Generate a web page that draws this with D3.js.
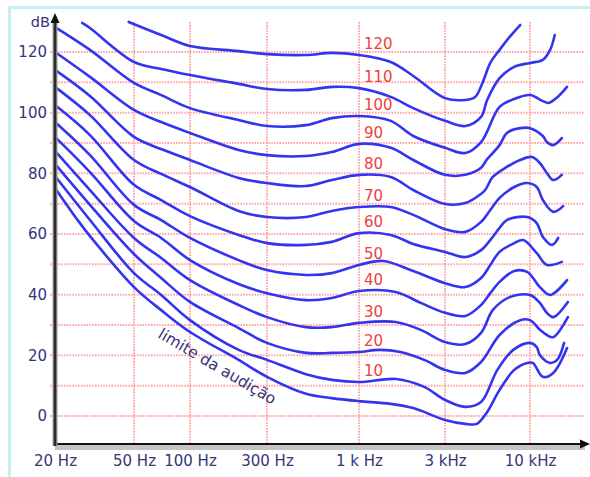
<!DOCTYPE html>
<html>
<head>
<meta charset="utf-8">
<script src="https://cdn.jsdelivr.net/npm/d3@7"></script>
<style>
  body { margin: 0; background: #fff; }
  svg { display: block; }
</style>
</head>
<body>
<div id="plot"></div>
<script>
// axis ticks and labels
const freqTicks  = [20, 50, 100, 300, 1000, 3000, 10000];
const freqLabels = ["20 Hz", "50 Hz", "100 Hz", "300 Hz", "1 k Hz", "3 kHz", "10 kHz"];
const gridFreqs  = [50, 100, 300, 1000, 3000, 10000];
const dbTicks    = [0, 20, 40, 60, 80, 100, 120];
const dbGrid     = [0, 10, 20, 30, 40, 50, 60, 70, 80, 90, 100, 110, 120];

// equal loudness curves (phon), frequency in Hz / level in dB
const f120 = [47, 70, 100, 200, 300, 500, 700, 1000, 1500, 2000, 3000, 4000, 4600, 5100, 5700, 6500, 7500, 8700];
const db120 = [129.9, 125.6, 122.0, 120.3, 119.3, 119.0, 119.7, 119.0, 116.7, 112.1, 104.8, 104.2, 105.2, 109.8, 116.4, 120.7, 125.0, 128.9];

const f110 = [27.4, 30, 50, 70, 100, 200, 300, 500, 700, 1000, 1500, 2000, 3000, 4000, 5000, 5450, 6500, 8000, 10000, 12000, 13300, 14200];
const db110 = [129.6, 127.9, 116.7, 114.4, 112.4, 109.5, 107.8, 107.5, 108.5, 108.1, 105.2, 101.5, 97.3, 95.6, 98.6, 104.2, 111.4, 115.1, 116.4, 117.4, 120.7, 125.6];

const f100 = [20, 30, 50, 70, 100, 200, 300, 500, 700, 1000, 1500, 2000, 3000, 4000, 5000, 6500, 8000, 10000, 12000, 13000, 14800, 16900];
const db100 = [128.2, 120.7, 109.8, 105.8, 101.5, 97.6, 95.6, 95.9, 98.2, 98.9, 97.3, 92.3, 88.4, 86.7, 90.3, 101.9, 104.5, 105.8, 103.8, 103.2, 105.2, 108.5];

const f90 = [20, 30, 50, 70, 100, 200, 300, 500, 700, 1000, 1500, 2000, 3000, 4000, 5000, 5400, 6500, 7200, 8700, 10000, 12000, 12700, 13900, 15700];
const db90 = [120.0, 111.8, 100.9, 96.9, 93.3, 87.7, 86.0, 85.7, 87.0, 89.7, 88.4, 84.4, 79.5, 79.5, 81.8, 84.4, 89.3, 93.3, 94.9, 94.9, 92.3, 90.3, 89.3, 91.6];

const f80 = [20, 30, 50, 70, 100, 200, 300, 500, 700, 1000, 1500, 2000, 3000, 4000, 4700, 5300, 5900, 7200, 8700, 10300, 11500, 12700, 13900, 15700];
const db80 = [114.1, 105.5, 92.0, 88.0, 84.4, 78.5, 76.8, 75.8, 77.8, 79.5, 78.8, 74.5, 69.9, 70.2, 72.2, 74.5, 78.8, 82.1, 84.4, 85.4, 83.4, 80.1, 77.8, 79.5];

const f70 = [20, 30, 50, 70, 100, 200, 300, 500, 700, 1000, 1500, 2000, 3000, 4000, 5000, 5700, 6500, 8000, 9600, 11000, 12000, 13900, 16000];
const db70 = [108.5, 99.2, 84.4, 79.8, 75.5, 67.6, 65.6, 65.6, 67.6, 68.9, 68.9, 66.3, 61.6, 60.7, 64.0, 67.9, 71.9, 75.5, 76.8, 75.5, 71.2, 67.3, 69.2];

const f60 = [20, 30, 50, 70, 100, 200, 300, 500, 700, 1000, 1500, 2000, 3000, 4000, 5000, 5700, 6500, 7200, 9600, 11000, 12000, 13700, 14900];
const db60 = [102.5, 92.6, 76.2, 71.2, 65.9, 59.7, 57.0, 56.4, 57.4, 60.3, 59.7, 56.7, 54.1, 52.4, 54.7, 58.0, 62.0, 64.6, 65.6, 63.6, 59.0, 56.4, 58.7];

const f50 = [20, 30, 50, 70, 100, 200, 300, 500, 700, 1000, 1360, 2000, 3000, 4000, 5000, 5700, 6500, 8000, 9100, 11000, 12700, 15700];
const db50 = [96.9, 86.0, 69.6, 64.6, 58.7, 51.4, 48.1, 46.5, 47.1, 49.8, 51.1, 47.8, 43.8, 42.5, 45.5, 49.8, 54.1, 57.0, 58.0, 53.7, 49.8, 50.8];

const f40 = [20, 30, 50, 70, 100, 200, 300, 500, 700, 1000, 1600, 2200, 3000, 4000, 5000, 5700, 6500, 8000, 9600, 11500, 13300, 16900];
const db40 = [92.0, 80.4, 64.3, 58.7, 51.4, 43.5, 40.5, 38.2, 38.9, 41.2, 40.9, 37.3, 34.0, 33.0, 36.6, 40.5, 44.2, 47.8, 47.5, 42.5, 39.9, 44.8];

const f30 = [20, 30, 50, 70, 100, 200, 300, 500, 700, 1000, 1600, 2200, 3000, 4000, 5000, 5900, 7500, 10000, 11500, 12700, 13900, 17100];
const db30 = [87.4, 74.5, 58.7, 52.1, 44.8, 36.6, 32.6, 29.3, 29.3, 30.7, 31.0, 28.4, 24.4, 23.7, 27.4, 34.9, 39.2, 39.9, 37.3, 34.0, 32.6, 37.6];

const f20 = [20, 30, 50, 70, 100, 200, 300, 500, 700, 1000, 1300, 1700, 2300, 3000, 4000, 5000, 6500, 8700, 10000, 11500, 12700, 13900, 17100];
const db20 = [83.1, 69.6, 53.4, 45.5, 37.6, 29.0, 24.1, 20.8, 20.8, 21.1, 21.8, 21.1, 18.5, 15.2, 14.2, 17.8, 26.7, 31.6, 31.6, 28.4, 26.7, 26.0, 32.6];

const f10 = [20, 30, 50, 70, 100, 200, 300, 500, 700, 1000, 1600, 2300, 3000, 4000, 5000, 6300, 7900, 10000, 11000, 11500, 13300, 14700, 16200];
const db10 = [79.1, 64.6, 47.1, 39.9, 31.6, 21.8, 18.5, 13.8, 11.9, 11.2, 12.2, 9.6, 5.3, 3.0, 4.6, 15.2, 21.8, 24.1, 22.7, 20.1, 17.5, 18.5, 24.1];

// limite da audição (threshold of hearing)
const fThr = [20, 26, 30, 50, 70, 100, 200, 300, 500, 700, 1000, 1500, 2000, 3000, 4000, 4700, 5400, 6500, 8000, 9600, 10400, 12000, 13900, 16900];
const dbThr = [75.2, 64.6, 59.3, 42.5, 34.9, 27.7, 18.5, 12.9, 7.3, 5.9, 4.9, 4.0, 2.6, -1.3, -2.6, -2.6, 1.0, 8.6, 15.2, 17.5, 17.5, 12.9, 14.2, 22.4];

const phonLabels = ["120", "110", "100", "90", "80", "70", "60", "50", "40", "30", "20", "10"];
const curveFreqs = [f120, f110, f100, f90, f80, f70, f60, f50, f40, f30, f20, f10, fThr];
const curveDbs   = [db120, db110, db100, db90, db80, db70, db60, db50, db40, db30, db20, db10, dbThr];

const width = 590, height = 477;
const font = "'DejaVu Sans', Verdana, sans-serif";
const navy = "#35357a";

const x = d3.scaleLog().domain(freqTicks).range([55, 134, 190, 267, 359, 445, 530]);
const y = d3.scaleLinear().domain([0, 120]).range([416, 52]);

const svg = d3.select("#plot").append("svg")
  .attr("width", width).attr("height", height);

// light cyan frame
svg.append("rect")
  .attr("x", 9.5).attr("y", 7.5).attr("width", 640).attr("height", 540)
  .attr("fill", "#fff").attr("stroke", "#c8eff1").attr("stroke-width", 3);

// grid
const grid = svg.append("g").attr("stroke", "#ffa6a6").attr("stroke-width", 2)
  .attr("stroke-dasharray", "1.6,1.2");
grid.selectAll("line.h").data(dbGrid).join("line").attr("class", "h")
  .attr("x1", 50).attr("x2", 584)
  .attr("y1", d => y(d)).attr("y2", d => y(d));
grid.selectAll("line.v").data(gridFreqs).join("line").attr("class", "v")
  .attr("x1", d => x(d)).attr("x2", d => x(d))
  .attr("y1", 22).attr("y2", 444);

// curves
const line = d3.line()
  .x(d => x(d[0])).y(d => y(d[1]))
  .curve(d3.curveCatmullRom.alpha(0.5));

svg.append("g").selectAll("path")
  .data(curveFreqs.map((fs, i) => fs.map((f, j) => [f, curveDbs[i][j]])))
  .join("path")
  .attr("d", line)
  .attr("fill", "none")
  .attr("stroke", "#3434f0")
  .attr("stroke-width", 2.6)
  .attr("stroke-linejoin", "round")
  .attr("stroke-linecap", "round");

// phon labels at 1 kHz
svg.append("g").selectAll("text")
  .data(phonLabels)
  .join("text")
  .attr("x", 364)
  .attr("y", (d, i) => y(curveDbs[i][curveFreqs[i].indexOf(1000)]) - 6)
  .attr("fill", "#ef3e3e")
  .attr("font-family", font)
  .attr("font-size", 15)
  .text(d => d);

// threshold label
svg.append("text")
  .attr("transform", "translate(157,337) rotate(30.5)")
  .attr("fill", navy)
  .attr("font-family", font)
  .attr("font-size", 15.5)
  .text("limite da audição");

// axes lines
svg.append("rect").attr("x", 55).attr("y", 443).attr("width", 530).attr("height", 7).attr("fill", "#c4c4c4");
svg.append("line").attr("x1", 55).attr("x2", 583).attr("y1", 444).attr("y2", 444)
  .attr("stroke", "#111").attr("stroke-width", 2);
svg.append("path").attr("d", "M590,444L580,439.5L580,448.5Z").attr("fill", "#111");

svg.append("line").attr("x1", 55).attr("x2", 55).attr("y1", 20).attr("y2", 446)
  .attr("stroke", "#999").attr("stroke-width", 5);
svg.append("line").attr("x1", 55).attr("x2", 55).attr("y1", 20).attr("y2", 446)
  .attr("stroke", "#2a2a2a").attr("stroke-width", 2.5);
svg.append("path").attr("d", "M55,13L50.5,23L59.5,23Z").attr("fill", "#111");

// tick labels
const yAxis = svg.append("g").attr("transform", "translate(55,0)")
  .call(d3.axisLeft(y).tickValues(dbTicks).tickSize(0).tickPadding(8));
const xAxis = svg.append("g").attr("transform", "translate(0,444)")
  .call(d3.axisBottom(x).tickValues(freqTicks).tickFormat((d, i) => freqLabels[i]).tickSize(0).tickPadding(11));
[yAxis, xAxis].forEach(g => {
  g.select(".domain").remove();
  g.selectAll("text").attr("fill", navy).attr("font-family", font).attr("font-size", 15);
});

svg.append("text")
  .attr("x", 50).attr("y", 27)
  .attr("text-anchor", "end")
  .attr("fill", navy)
  .attr("font-family", font)
  .attr("font-size", 14.5)
  .text("dB");
</script>
</body>
</html>
